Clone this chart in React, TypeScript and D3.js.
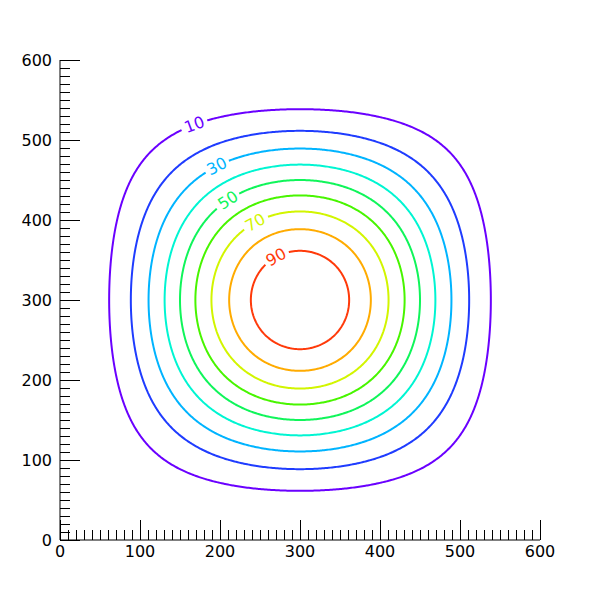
import React, { useMemo } from 'react';
import * as d3 from 'd3';

// ---- data ----
const LEVELS = [10, 20, 30, 40, 50, 60, 70, 80, 90];
const LEVEL_COLORS = ['#6a00ff', '#1f3cff', '#00b4ff', '#00f5d2', '#10f55a', '#48f500', '#d2f500', '#ffab00', '#ff3a0a'];
const LABELED_LEVELS = [10, 30, 50, 70, 90];
const LABEL_DIRECTIONS = [121, 122, 126, 120, 120];
const X_TICKS = [0, 100, 200, 300, 400, 500, 600];
const Y_TICKS = [0, 100, 200, 300, 400, 500, 600];
const MINOR_STEP = 10;
const X_DOMAIN = [0, 600];
const Y_DOMAIN = [0, 600];
const PEAK_HEIGHT = 100;
const PEAK_CENTER = [300, 300];
const PEAK_HALF_WIDTH = 300;

const W = 600, H = 600;
const M = { left: 60, right: 60, top: 60, bottom: 60 };
const FONT = '"DejaVu Sans", sans-serif';

function field(x: number, y: number) {
  const cx = Math.cos((Math.PI * (x - PEAK_CENTER[0])) / (2 * PEAK_HALF_WIDTH));
  const cy = Math.cos((Math.PI * (y - PEAK_CENTER[1])) / (2 * PEAK_HALF_WIDTH));
  return PEAK_HEIGHT * cx * cx * cy * cy;
}

export default function App() {
  const sx = d3.scaleLinear().domain(X_DOMAIN).range([M.left, W - M.right]);
  const sy = d3.scaleLinear().domain(Y_DOMAIN).range([H - M.bottom, M.top]);

  const { lines, labels } = useMemo(() => {
    const step = 2;
    const nx = Math.round((X_DOMAIN[1] - X_DOMAIN[0]) / step) + 1;
    const ny = Math.round((Y_DOMAIN[1] - Y_DOMAIN[0]) / step) + 1;
    const values = new Array(nx * ny);
    for (let j = 0; j < ny; j++)
      for (let i = 0; i < nx; i++)
        values[j * nx + i] = field(X_DOMAIN[0] + i * step, Y_DOMAIN[0] + j * step);
    const contours = d3.contours().size([nx, ny]).thresholds(LEVELS)(values);
    const lines: { d: string; color: string }[] = [];
    const labels: { x: number; y: number; a: number; text: string; color: string }[] = [];
    const lineGen = d3.line<[number, number]>().x(p => p[0]).y(p => p[1]);
    contours.forEach((c, li) => {
      const level = LEVELS[li];
      const color = LEVEL_COLORS[li];
      const lblIdx = LABELED_LEVELS.indexOf(level);
      c.coordinates.forEach(poly => {
        poly.forEach(ringG => {
          const dataPts = ringG.slice(0, -1).map(p => [X_DOMAIN[0] + (p[0] - 0.5) * step, Y_DOMAIN[0] + (p[1] - 0.5) * step]);
          const px: [number, number][] = dataPts.map(p => [sx(p[0]), sy(p[1])]);
          if (lblIdx < 0) {
            lines.push({ d: lineGen([...px, px[0]]) as string, color });
            return;
          }
          const dir = (LABEL_DIRECTIONS[lblIdx] * Math.PI) / 180;
          let best = 0, bestD = Infinity;
          dataPts.forEach((p, k) => {
            const ang = Math.atan2(p[1] - PEAK_CENTER[1], p[0] - PEAK_CENTER[0]);
            let d = Math.abs(ang - dir);
            if (d > Math.PI) d = 2 * Math.PI - d;
            if (d < bestD) { bestD = d; best = k; }
          });
          const n = px.length;
          const c0 = px[best];
          const a1 = px[(best - 3 + n) % n], a2 = px[(best + 3) % n];
          let ang = (Math.atan2(a2[1] - a1[1], a2[0] - a1[0]) * 180) / Math.PI;
          if (ang > 90) ang -= 180;
          if (ang < -90) ang += 180;
          labels.push({ x: c0[0], y: c0[1], a: ang, text: String(level), color });
          const r = 12.5;
          const seg: [number, number][] = [];
          for (let i = 0; i < n; i++) {
            const p = px[(best + i) % n];
            if (Math.hypot(p[0] - c0[0], p[1] - c0[1]) < r) continue;
            seg.push(p);
          }
          lines.push({ d: lineGen(seg) as string, color });
        });
      });
    });
    return { lines, labels };
  }, []);

  const minorX = d3.range(X_DOMAIN[0], X_DOMAIN[1] + 0.001, MINOR_STEP).filter(v => !X_TICKS.includes(v));
  const minorY = d3.range(Y_DOMAIN[0], Y_DOMAIN[1] + 0.001, MINOR_STEP).filter(v => !Y_TICKS.includes(v));
  const x0 = sx(X_DOMAIN[0]);
  const y0 = sy(Y_DOMAIN[0]);

  return (
    <svg width={W} height={H} style={{ position: 'absolute', left: 0, top: 0, background: '#fff' }} fontFamily={FONT}>
      <rect x={0} y={0} width={W} height={H} fill="#fff" />
      {lines.map((l, i) => (
        <path key={i} d={l.d} fill="none" stroke={l.color} strokeWidth={2} />
      ))}
      {labels.map((l, i) => (
        <text key={i} transform={`translate(${l.x},${l.y}) rotate(${l.a})`} textAnchor="middle" dominantBaseline="central" fontSize={16} fill={l.color}>
          {l.text}
        </text>
      ))}
      {/* axes */}
      <line x1={x0} x2={x0} y1={sy(Y_DOMAIN[0])} y2={sy(Y_DOMAIN[1])} stroke="#000" strokeWidth={1} />
      <line x1={sx(X_DOMAIN[0])} x2={sx(X_DOMAIN[1])} y1={y0} y2={y0} stroke="#000" strokeWidth={1} />
      {Y_TICKS.map(v => (
        <g key={'y' + v}>
          <line x1={x0} x2={x0 + 20} y1={Math.round(sy(v)) + 0.5} y2={Math.round(sy(v)) + 0.5} stroke="#000" />
          <text x={x0 - 8} y={sy(v)} textAnchor="end" dominantBaseline="central" fontSize={16} fill="#000">{v}</text>
        </g>
      ))}
      {minorY.map(v => (
        <line key={'ym' + v} x1={x0} x2={x0 + 10} y1={Math.round(sy(v)) + 0.5} y2={Math.round(sy(v)) + 0.5} stroke="#000" />
      ))}
      {X_TICKS.map(v => (
        <g key={'x' + v}>
          <line x1={Math.round(sx(v)) + 0.5} x2={Math.round(sx(v)) + 0.5} y1={y0} y2={y0 - 20} stroke="#000" />
          <text x={sx(v)} y={y0 + 17} textAnchor="middle" fontSize={16} fill="#000">{v}</text>
        </g>
      ))}
      {minorX.map(v => (
        <line key={'xm' + v} x1={Math.round(sx(v)) + 0.5} x2={Math.round(sx(v)) + 0.5} y1={y0} y2={y0 - 10} stroke="#000" />
      ))}
    </svg>
  );
}
